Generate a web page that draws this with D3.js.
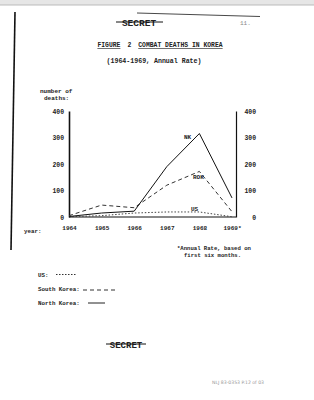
<!DOCTYPE html>
<html>
<head>
<meta charset="utf-8">
<title>Combat deaths in Korea</title>
<script src="https://d3js.org/d3.v7.min.js"></script>
<style>
body { margin: 0; background: #fff; }
text { font-family: "Liberation Mono", "DejaVu Sans Mono", monospace; fill: #222; font-weight: bold; }
</style>
</head>
<body>
<div id="chart"></div>
<script>
// values
var years = [1964, 1965, 1966, 1967, 1968, 1969];
var yearLabels = ["1964", "1965", "1966", "1967", "1968", "1969*"];
var northKorea = [2, 15, 22, 190, 315, 72];
var southKorea = [5, 45, 35, 120, 172, 20];
var usDeaths = [1, 5, 15, 19, 19, 1];
var yTicks = [0, 100, 200, 300, 400];

var w = 314, h = 400;

var svg = d3.select("#chart").append("svg")
  .attr("width", w)
  .attr("height", h);

// page edge / scan border
svg.append("rect").attr("x", 0).attr("y", 0).attr("width", w).attr("height", 5).attr("fill", "#e6e6e6");
svg.append("line").attr("x1", 0).attr("x2", w).attr("y1", 5).attr("y2", 5).attr("stroke", "#bbb").attr("stroke-width", 1);
svg.append("line").attr("x1", 15).attr("y1", 12).attr("x2", 11).attr("y2", 250)
  .attr("stroke", "#111").attr("stroke-width", 1.6);

// header
svg.append("line").attr("x1", 137).attr("y1", 13).attr("x2", 260).attr("y2", 16.5).attr("stroke", "#333").attr("stroke-width", 0.9);
svg.append("text").attr("x", 139).attr("y", 26).attr("text-anchor", "middle")
  .style("font-size", "9.5px").text("SECRET");
svg.append("line").attr("x1", 116).attr("x2", 163).attr("y1", 22).attr("y2", 22).attr("stroke", "#111").attr("stroke-width", 1);
svg.append("text").attr("x", 240).attr("y", 25).style("font-size", "6px").style("fill", "#888").style("font-weight", "normal").text("11.");

var title = svg.append("text").attr("x", 160).attr("y", 47).attr("text-anchor", "middle").style("font-size", "6.4px");
title.append("tspan").style("text-decoration", "underline").text("FIGURE");
title.append("tspan").attr("dx", 7).text("2");
title.append("tspan").attr("dx", 7).style("text-decoration", "underline").text("COMBAT DEATHS IN KOREA");

svg.append("text").attr("x", 154).attr("y", 63).attr("text-anchor", "middle")
  .style("font-size", "6.6px").text("(1964-1969, Annual Rate)");

// chart
var x = d3.scaleLinear().domain([1964, 1969]).range([69, 232]);
var y = d3.scaleLinear().domain([0, 400]).range([217, 111]);

svg.append("text").attr("x", 40).attr("y", 93).style("font-size", "6px").text("number of");
svg.append("text").attr("x", 44).attr("y", 100).style("font-size", "6px").text("deaths:");

var leftAxis = svg.append("g")
  .attr("transform", "translate(69,0)")
  .call(d3.axisLeft(y).tickValues(yTicks).tickSize(0).tickSizeOuter(0).tickPadding(5).tickFormat(d3.format("d")));
leftAxis.select(".domain").attr("stroke", "#111").attr("stroke-width", 1.6);
leftAxis.selectAll("text").style("font-size", "6.4px").style("font-family", null);

var rightAxis = svg.append("g")
  .attr("transform", "translate(236,0)")
  .call(d3.axisRight(y).tickValues(yTicks).tickSize(0).tickSizeOuter(0).tickPadding(20).tickFormat(d3.format("d")));
rightAxis.select(".domain").attr("stroke", "#111").attr("stroke-width", 1.2);
rightAxis.selectAll("text").attr("text-anchor", "end").style("font-size", "6.4px").style("font-family", null);

svg.append("line").attr("x1", 69).attr("x2", 236).attr("y1", y(0)).attr("y2", y(0))
  .attr("stroke", "#111").attr("stroke-width", 1.2);

var xAxis = svg.append("g")
  .attr("transform", "translate(0,226)")
  .call(d3.axisBottom(x).tickValues(years).tickSize(0).tickPadding(0)
    .tickFormat(function(d, i) { return yearLabels[i]; }));
xAxis.select(".domain").remove();
xAxis.selectAll("text").style("font-size", "6px").style("font-family", null);
svg.append("text").attr("x", 24).attr("y", 233).style("font-size", "5.8px").text("year:");

var line = d3.line()
  .x(function(d, i) { return x(years[i]); })
  .y(function(d) { return y(d); });

svg.append("path").datum(southKorea).attr("d", line).attr("fill", "none")
  .attr("stroke", "#333").attr("stroke-width", 1).attr("stroke-dasharray", "4,3");
svg.append("path").datum(usDeaths).attr("d", line).attr("fill", "none")
  .attr("stroke", "#444").attr("stroke-width", 1).attr("stroke-dasharray", "1.5,1.8");
svg.append("path").datum(northKorea).attr("d", line).attr("fill", "none")
  .attr("stroke", "#111").attr("stroke-width", 1);

svg.append("text").attr("x", 184).attr("y", 139).style("font-size", "6px").text("NK");
svg.append("text").attr("x", 193).attr("y", 179).style("font-size", "6px").text("ROK");
svg.append("text").attr("x", 191).attr("y", 211).style("font-size", "6px").text("US");

// footnote
svg.append("text").attr("x", 177).attr("y", 250).style("font-size", "5.6px").text("*Annual Rate, based on");
svg.append("text").attr("x", 184).attr("y", 257).style("font-size", "5.6px").text("first six months.");

// legend
svg.append("text").attr("x", 38).attr("y", 277).style("font-size", "5.8px").text("US:");
svg.append("line").attr("x1", 56).attr("x2", 76).attr("y1", 274.5).attr("y2", 274.5)
  .attr("stroke", "#333").attr("stroke-dasharray", "1.5,1.5");
svg.append("text").attr("x", 38).attr("y", 291).style("font-size", "5.8px").text("South Korea:");
svg.append("line").attr("x1", 83).attr("x2", 117).attr("y1", 290).attr("y2", 290)
  .attr("stroke", "#333").attr("stroke-dasharray", "4,3");
svg.append("text").attr("x", 38).attr("y", 305).style("font-size", "5.8px").text("North Korea:");
svg.append("line").attr("x1", 88).attr("x2", 105).attr("y1", 303).attr("y2", 303)
  .attr("stroke", "#222");

// footer
svg.append("text").attr("x", 126).attr("y", 348).attr("text-anchor", "middle")
  .style("font-size", "9px").text("SECRET");
svg.append("line").attr("x1", 106).attr("x2", 146).attr("y1", 344).attr("y2", 344).attr("stroke", "#111").attr("stroke-width", 1);
svg.append("text").attr("x", 212).attr("y", 384).style("font-size", "4.6px").style("fill", "#999")
  .style("font-weight", "normal").style("font-family", "'DejaVu Sans', sans-serif").text("NLJ 83-0353 P.12 of 03");
</script>
</body>
</html>
